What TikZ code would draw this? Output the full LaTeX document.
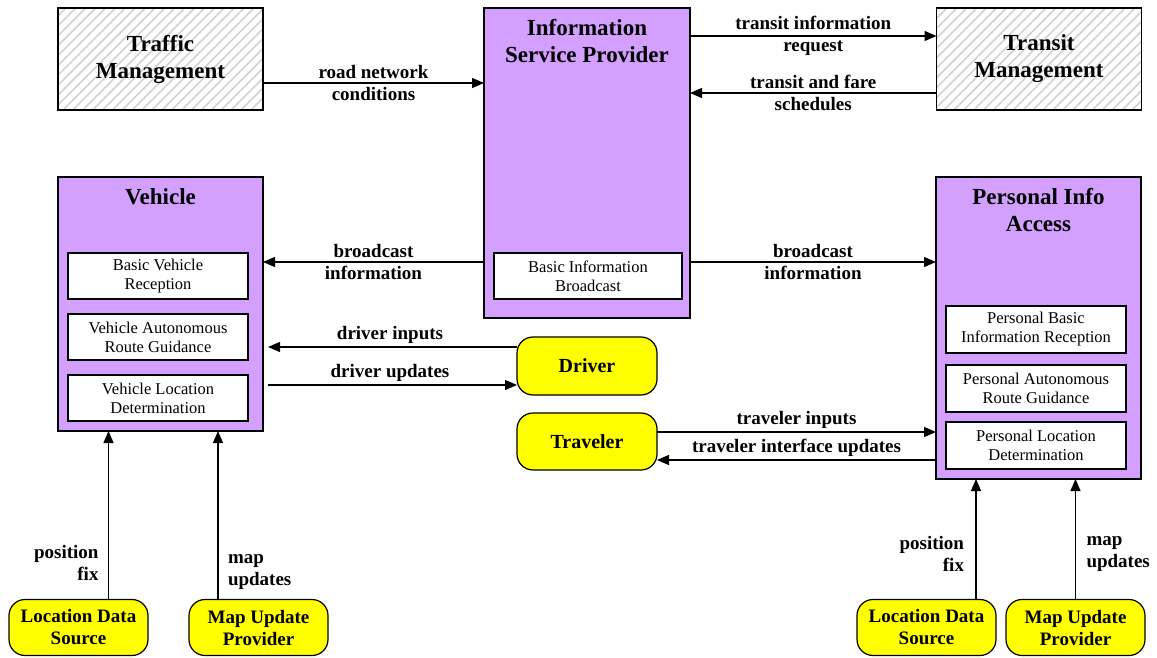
\documentclass[tikz,border=0pt]{standalone}
\usepackage{fontspec}
\setmainfont{Liberation Serif}
\usetikzlibrary{arrows.meta,patterns.meta}
\definecolor{svcpurple}{RGB}{212,160,255}
\definecolor{termyellow}{RGB}{255,255,0}

\begin{document}
\begin{tikzpicture}[x=1pt, y=-1pt,
    every node/.style={inner sep=0pt, outer sep=0pt},
    extbox/.style={draw, line width=1.3pt, minimum width=205pt, minimum height=102pt,
        align=center, font=\fontsize{23}{27}\selectfont\bfseries,
        preaction={fill=white},
        pattern={Lines[angle=45,distance=7pt,line width=1.6pt]}, pattern color=gray!35},
    subsys/.style={draw, line width=1.3pt, fill=svcpurple, minimum width=205pt},
    systitle/.style={align=center, font=\fontsize{23}{27}\selectfont\bfseries},
    equip/.style={draw, line width=1.2pt, fill=white, minimum width=180pt, minimum height=46pt,
        align=center, font=\fontsize{16.5}{19}\selectfont},
    term/.style={draw, line width=1.2pt, fill=termyellow, rounded corners=16pt,
        minimum width=139pt, minimum height=56pt, align=center,
        font=\fontsize{19}{22}\selectfont\bfseries},
    flow/.style={line width=1.3pt, -{Triangle[length=12pt,width=10pt]}},
    lbl/.style={align=center, font=\fontsize{19}{22}\selectfont\bfseries},
]
    \useasboundingbox (0,0) rectangle (1157,658);

    % external systems (hatched)
    \node[extbox] (traffic) at (160.5,59) {Traffic\\Management};
    \node[extbox] (transit) at (1039,59) {Transit\\Management};

    % subsystems
    \node[subsys, minimum width=206pt, minimum height=310pt] (isp) at (587,163) {};
    \node[systitle] (isptitle) at (587,41.5) {Information\\Service Provider};
    \node[equip, minimum width=188pt] (bcast) at (588,276) {Basic Information\\Broadcast};

    \node[subsys, minimum height=254pt] (veh) at (160.5,304) {};
    \node[systitle] (vehtitle) at (160.5,197) {Vehicle};
    \node[equip] (vrecv) at (158,276) {Basic Vehicle\\Reception};
    \node[equip] (vguide) at (158,337) {Vehicle Autonomous\\Route Guidance};
    \node[equip] (vloc) at (158,398) {Vehicle Location\\Determination};

    \node[subsys, minimum height=302pt] (pia) at (1038.5,328) {};
    \node[systitle] (piatitle) at (1038.5,210.5) {Personal Info\\Access};
    \node[equip, minimum height=47pt] (precv) at (1036,329.5) {Personal Basic\\Information Reception};
    \node[equip, minimum height=47pt] (pguide) at (1036,388.5) {Personal Autonomous\\Route Guidance};
    \node[equip, minimum height=47pt] (ploc) at (1036,445.5) {Personal Location\\Determination};

    % terminators
    \node[term, minimum width=140pt, minimum height=58pt, font=\fontsize{20}{22}\selectfont\bfseries] (driver) at (587,366) {Driver};
    \node[term, minimum width=140pt, minimum height=57pt, font=\fontsize{20}{22}\selectfont\bfseries] (traveler) at (587,441.5) {Traveler};
    \node[term] (lds1) at (78.5,627.5) {Location Data\\Source};
    \node[term] (mup1) at (258.5,627.5) {Map Update\\Provider};
    \node[term] (lds2) at (926.5,627.5) {Location Data\\Source};
    \node[term] (mup2) at (1075.5,627.5) {Map Update\\Provider};

    % flows at the top
    \draw[flow] ([yshift=-24pt]traffic.east) -- ([yshift=-24pt]traffic.east -| isp.west)
        node[lbl, midway] {road network\\conditions};
    \draw[flow] ([yshift=23pt]transit.west -| isp.east) -- ([yshift=23pt]transit.west)
        node[lbl, midway] {transit information\\request};
    \draw[flow] ([yshift=-34pt]transit.west) -- ([yshift=-34pt]transit.west -| isp.east)
        node[lbl, midway] {transit and fare\\schedules};

    % broadcast
    \draw[flow] ([yshift=14pt]bcast.west -| isp.west) -- ([yshift=14pt]bcast.west -| veh.east)
        node[lbl, midway] {broadcast\\information};
    \draw[flow] ([yshift=14pt]bcast.east -| isp.east) -- ([yshift=14pt]bcast.east -| pia.west)
        node[lbl, midway] {broadcast\\information};

    % driver and traveler
    \draw[flow, shorten >=5pt] ([yshift=19pt]driver.west) -- ([yshift=19pt]driver.west -| veh.east)
        node[lbl, midway, above=3pt] {driver inputs};
    \draw[flow, shorten <=5pt] ([yshift=-19pt]driver.west -| veh.east) -- ([yshift=-19pt]driver.west)
        node[lbl, midway, above=3pt] {driver updates};
    \draw[flow] ([yshift=9.5pt]traveler.east) -- ([yshift=9.5pt]traveler.east -| pia.west)
        node[lbl, midway, above=3pt] {traveler inputs};
    \draw[flow] ([yshift=-18.5pt]traveler.east -| pia.west) -- ([yshift=-18.5pt]traveler.east)
        node[lbl, midway, above=3pt] {traveler interface updates};

    % position and map data
    \draw[flow] ([xshift=30pt]lds1.north) -- ([xshift=30pt]lds1.north |- veh.south)
        node[lbl, pos=0.22, left=10pt, align=right] {position\\fix};
    \draw[flow] ([xshift=-40.5pt]mup1.north) -- ([xshift=-40.5pt]mup1.north |- veh.south)
        node[lbl, pos=0.165, right=10pt, align=left] {map\\updates};
    \draw[flow] ([xshift=49.5pt]lds2.north) -- ([xshift=49.5pt]lds2.north |- pia.south)
        node[lbl, pos=0.38, left=12pt, align=right] {position\\fix};
    \draw[flow] (mup2.north) -- (mup2.north |- pia.south)
        node[lbl, pos=0.38, right=11pt, align=left] {map\\updates};
\end{tikzpicture}
\end{document}
